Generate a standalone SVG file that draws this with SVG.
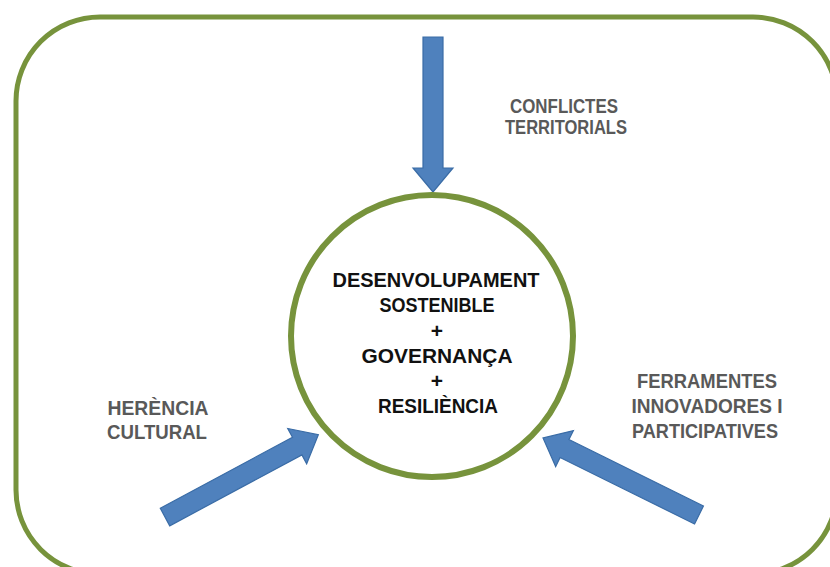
<svg xmlns="http://www.w3.org/2000/svg" width="830" height="567" viewBox="0 0 830 567">
<defs>
<style>
.frame{fill:none;stroke:#77933C;stroke-width:5}
.ring{fill:#FFFFFF;stroke:#77933C;stroke-width:6}
.arrow{fill:#4F81BD;stroke:#3A6CA6;stroke-width:1.2;stroke-linejoin:miter}
.lbl{font-family:"Liberation Sans",Arial,sans-serif;font-weight:bold;font-size:21px;fill:#595959;text-anchor:middle}
.core{font-family:"Liberation Sans",Arial,sans-serif;font-weight:bold;font-size:21px;fill:#111111;text-anchor:middle}
</style>
<path id="arr155" d="M0,-10 L131,-10 L131,-20 L155,0 L131,20 L131,10 L0,10 Z"/>
<path id="arr174" d="M0,-10 L150,-10 L150,-20 L174,0 L150,20 L150,10 L0,10 Z"/>
</defs>
<rect width="830" height="567" fill="#FFFFFF"/>
<g id="frame">
<rect class="frame" x="16" y="17" width="821" height="557" rx="84" ry="84"/>
</g>
<g id="connectors">
<use href="#arr155" class="arrow" transform="translate(433,37) rotate(90)"/>
<use href="#arr174" class="arrow" transform="translate(165,517) rotate(-28.2)"/>
<use href="#arr174" class="arrow" transform="translate(699,515) rotate(-153.7)"/>
</g>
<g id="center">
<circle class="ring" cx="432" cy="336" r="141"/>
<text class="core" x="436" y="287" textLength="207" lengthAdjust="spacingAndGlyphs">DESENVOLUPAMENT</text>
<text class="core" x="437" y="312" textLength="115" lengthAdjust="spacingAndGlyphs">SOSTENIBLE</text>
<text class="core" x="437" y="338">+</text>
<text class="core" x="437" y="363" textLength="151" lengthAdjust="spacingAndGlyphs">GOVERNANÇA</text>
<text class="core" x="437" y="388">+</text>
<text class="core" x="438" y="413" textLength="120" lengthAdjust="spacingAndGlyphs">RESILIÈNCIA</text>
</g>
<g id="conflictes">
<text class="lbl" x="564" y="113" textLength="108" lengthAdjust="spacingAndGlyphs">CONFLICTES</text>
<text class="lbl" x="566" y="134" textLength="122" lengthAdjust="spacingAndGlyphs">TERRITORIALS</text>
</g>
<g id="herencia">
<text class="lbl" x="158" y="415" textLength="101" lengthAdjust="spacingAndGlyphs">HERÈNCIA</text>
<text class="lbl" x="157" y="439" textLength="100" lengthAdjust="spacingAndGlyphs">CULTURAL</text>
</g>
<g id="ferramentes">
<text class="lbl" x="707" y="388" textLength="140" lengthAdjust="spacingAndGlyphs">FERRAMENTES</text>
<text class="lbl" x="707" y="413" textLength="151" lengthAdjust="spacingAndGlyphs">INNOVADORES I</text>
<text class="lbl" x="705" y="438" textLength="146" lengthAdjust="spacingAndGlyphs">PARTICIPATIVES</text>
</g>
</svg>
